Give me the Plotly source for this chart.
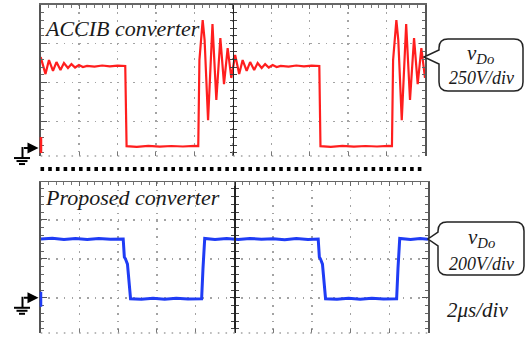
import plotly.graph_objects as go

# ---------------- data (time in us, voltage in V) ----------------
# ACCIB converter, v_Do (250 V/div)
t_accib = [0.00, 0.25, 0.43, 0.64, 0.82, 1.03, 1.21, 1.42, 1.60, 1.79,
           1.99, 2.20, 2.41, 2.80, 3.20, 3.60, 4.00, 4.40, 4.47, 5.00,
           5.60, 6.20, 6.80, 7.40, 8.00, 8.20, 8.26, 8.43, 8.53, 8.71,
           8.94, 9.14, 9.35, 9.54, 9.73, 9.92, 10.12, 10.33, 10.51, 10.72,
           10.90, 11.11, 11.29, 11.50, 11.68, 11.87, 12.07, 12.28, 12.49, 12.90,
           13.30, 13.70, 14.10, 14.50, 14.56, 15.10, 15.70, 16.30, 16.90, 17.50,
           18.10, 18.28, 18.34, 18.51, 18.61, 18.79, 19.02, 19.22, 19.43, 19.62,
           19.81, 20.00]
v_accib = [583, 474, 564, 494, 551, 500, 545, 513, 538, 516,
           532, 519, 526, 522, 529, 523, 528, 526, 12, 8,
           14, 9, 13, 10, 14, 12, 564, 820, 692, 179,
           795, 308, 705, 410, 641, 449, 596, 474, 564, 494,
           551, 500, 545, 513, 538, 516, 532, 519, 526, 522,
           529, 523, 528, 526, 12, 8, 14, 9, 13, 10,
           14, 12, 564, 820, 692, 179, 795, 308, 705, 410,
           641, 449]

# Proposed converter, v_Do (200 V/div)
t_prop = [0.00, 0.60, 1.20, 1.80, 2.40, 3.00, 3.60, 4.26, 4.32, 4.38,
          4.48, 4.56, 4.64, 5.20, 5.80, 6.40, 7.00, 7.60, 8.31, 8.38,
          8.47, 9.00, 9.60, 10.20, 10.80, 11.40, 12.00, 12.60, 13.20, 13.80,
          14.33, 14.39, 14.45, 14.55, 14.63, 14.71, 15.30, 15.90, 16.50, 17.10,
          17.70, 18.38, 18.45, 18.54, 19.10, 19.60, 20.00]
v_prop = [302, 306, 299, 304, 300, 305, 301, 302, 209, 199,
          173, 65, -5, -8, -3, -7, -2, -6, -5, 150,
          305, 300, 304, 299, 305, 301, 303, 298, 304, 300,
          302, 209, 199, 173, 65, -5, -8, -3, -7, -2,
          -6, -5, 150, 305, 300, 304, 301]

top_label = "ACCIB converter"
bot_label = "Proposed converter"
top_scale = "250V/div"
bot_scale = "200V/div"
time_scale = "2μs/div"

assert len(t_accib) == len(v_accib)
assert len(t_prop) == len(v_prop)

# ---------------- layout helpers ----------------
W, H = 528, 339
def px(x): return x / W
def py(y): return 1 - y / H

TOP_PX = (4.5, 156)     # top/bottom pixel rows of upper graticule
BOT_PX = (182, 333)
TOP_X = [px(40.7), px(425)]
TOP_Y = [py(TOP_PX[1]), py(TOP_PX[0])]
BOT_X = [px(40.7), px(428)]
BOT_Y = [py(BOT_PX[1]), py(BOT_PX[0])]
TOP_RANGE = [-51, 920]
BOT_RANGE = [-181, 595]

def ground_row(pxrange, rng):
    # pixel row of 0 V inside a panel
    return pxrange[0] + (rng[1] - 0) / (rng[1] - rng[0]) * (pxrange[1] - pxrange[0])

GRID = "#a3a3a3"
DOTS = "1.6px,6.1px"
SERIF = "Liberation Serif, Times New Roman, serif"

def x_main(domain, anchor):
    return dict(domain=domain, anchor=anchor, range=[0, 20], side="top",
                showline=True, linecolor="#666", linewidth=1.5,
                ticks="inside", ticklen=4, tickwidth=1, tickcolor="#666",
                tick0=0, dtick=2,
                minor=dict(tick0=0, dtick=0.4, ticks="inside", ticklen=3,
                           tickcolor="#777", tickwidth=1, showgrid=False),
                showgrid=True, gridcolor=GRID, griddash=DOTS, gridwidth=1.5,
                zeroline=False, showticklabels=False, fixedrange=True)

def x_bottom(overlay, anchor):
    return dict(overlaying=overlay, anchor=anchor, range=[0, 20], side="bottom",
                showline=False, ticks="inside", ticklen=4, tickcolor="#777",
                tick0=0, dtick=2, showgrid=False, zeroline=False,
                showticklabels=False, fixedrange=True)

def y_main(domain, anchor, rng, t0, dt):
    return dict(domain=domain, anchor=anchor, range=rng,
                showline=True, linecolor="#555", linewidth=1.5, mirror="ticks",
                ticks="inside", ticklen=6, tickwidth=1, tickcolor="#555",
                tick0=t0, dtick=dt,
                minor=dict(tick0=t0, dtick=dt / 5, ticks="inside", ticklen=3,
                           tickcolor="#666", tickwidth=1, showgrid=False),
                showgrid=True, gridcolor=GRID, griddash=DOTS, gridwidth=1.5,
                zeroline=False, showticklabels=False, fixedrange=True)

def y_center(overlay, pos, rng, t0, dt, side):
    return dict(overlaying=overlay, anchor="free", position=pos, range=rng,
                showline=True, linecolor="#222", linewidth=1.5,
                ticks=side, ticklen=4, tickwidth=1, tickcolor="#333",
                tick0=t0, dtick=dt,
                minor=dict(tick0=t0, dtick=dt / 5, ticks=side, ticklen=3,
                           tickcolor="#444", tickwidth=1, showgrid=False),
                showgrid=False, zeroline=False, showticklabels=False,
                fixedrange=True)

fig = go.Figure()

fig.add_trace(go.Scatter(x=t_accib, y=v_accib, mode="lines", xaxis="x", yaxis="y",
                         line=dict(color="#ff1e1e", width=2.2), hoverinfo="skip"))
fig.add_trace(go.Scatter(x=t_prop, y=v_prop, mode="lines", xaxis="x2", yaxis="y2",
                         line=dict(color="#1f3cf5", width=3), hoverinfo="skip"))

# empty traces so that overlay axes are drawn
for xa, ya in [("x", "y3"), ("x", "y4"), ("x3", "y"),
               ("x2", "y5"), ("x2", "y6"), ("x4", "y2")]:
    fig.add_trace(go.Scatter(x=[None], y=[None], xaxis=xa, yaxis=ya,
                             mode="lines", hoverinfo="skip"))

top_c = (TOP_X[0] + TOP_X[1]) / 2
bot_c = (BOT_X[0] + BOT_X[1]) / 2

fig.update_layout(
    width=W, height=H, autosize=False,
    margin=dict(l=0, r=0, t=0, b=0),
    paper_bgcolor="white", plot_bgcolor="white",
    showlegend=False,
    xaxis=x_main(TOP_X, "y"),
    xaxis2=x_main(BOT_X, "y2"),
    xaxis3=x_bottom("x", "y"),
    xaxis4=x_bottom("x2", "y2"),
    yaxis=y_main(TOP_Y, "x", TOP_RANGE, 169, 250),
    yaxis2=y_main(BOT_Y, "x2", BOT_RANGE, 0, 200),
    yaxis3=y_center("y", top_c, TOP_RANGE, 169, 250, "outside"),
    yaxis4=y_center("y", top_c, TOP_RANGE, 169, 250, "inside"),
    yaxis5=y_center("y2", bot_c, BOT_RANGE, 0, 200, "outside"),
    yaxis6=y_center("y2", bot_c, BOT_RANGE, 0, 200, "inside"),
)

shapes = []
# dotted bottom edges of graticules
for xr, yr in [("x domain", "y domain"), ("x2 domain", "y2 domain")]:
    shapes.append(dict(type="line", xref=xr, yref=yr, x0=0, x1=1, y0=0, y1=0,
                       line=dict(color=GRID, width=1.5, dash=DOTS)))

# separator of black squares
shapes.append(dict(type="line", xref="paper", yref="paper",
                   x0=px(40.5), x1=px(425), y0=py(169), y1=py(169),
                   line=dict(color="black", width=4, dash="3.6px,4.1px")))

ann = []
# ground symbols, ground arrows and channel markers
for pxr, rng, col, lo, hi in [(TOP_PX, TOP_RANGE, "#ff1e1e", 5, -11),
                              (BOT_PX, BOT_RANGE, "#1f3cf5", 9, -6)]:
    g = ground_row(pxr, rng)
    def L(x0, x1, y0, y1, c="black", w=2):
        shapes.append(dict(type="line", xref="paper", yref="paper",
                           x0=px(x0), x1=px(x1), y0=py(y0), y1=py(y1),
                           line=dict(color=c, width=w)))
    L(22.5, 22.5, g - 1, g + 10)
    L(14, 30, g + 10, g + 10)
    L(16.5, 27.5, g + 13, g + 13)
    L(19, 25, g + 16, g + 16)
    L(41, 41, g + lo, g + hi, col, 2.5)
    ann.append(dict(text="", x=px(38.5), y=py(g), xref="paper", yref="paper",
                    ax=-16, ay=0, showarrow=True, arrowhead=2, arrowsize=1.1,
                    arrowwidth=2, arrowcolor="black"))

# callout boxes
def callout(x0, y0, x1, y1, r, tip, ty0, ty1):
    def P(x, y): return f"{px(x):.5f},{py(y):.5f}"
    return (f"M{P(x0 + r, y0)} L{P(x1 - r, y0)} Q{P(x1, y0)} {P(x1, y0 + r)} "
            f"L{P(x1, y1 - r)} Q{P(x1, y1)} {P(x1 - r, y1)} L{P(x0 + r, y1)} "
            f"Q{P(x0, y1)} {P(x0, y1 - r)} L{P(x0, ty1)} L{P(*tip)} L{P(x0, ty0)} "
            f"L{P(x0, y0 + r)} Q{P(x0, y0)} {P(x0 + r, y0)} Z")

shapes.append(dict(type="path", xref="paper", yref="paper",
                   path=callout(439, 39, 523, 91, 9, (424, 57), 50, 64),
                   line=dict(color="#222", width=1.5), fillcolor="white"))
shapes.append(dict(type="path", xref="paper", yref="paper",
                   path=callout(438, 222, 524, 275, 9, (428, 239), 232, 246),
                   line=dict(color="#222", width=1.5), fillcolor="white"))
fig.update_layout(shapes=shapes)

def txt(s, x, y, size, xanchor="center"):
    ann.append(dict(text=s, x=px(x), y=py(y), xref="paper", yref="paper",
                    xanchor=xanchor, yanchor="middle", showarrow=False,
                    borderpad=0,
                    font=dict(family=SERIF, size=size, color="#1a1a1a")))

txt(f"<i>{top_label}</i>", 43, 29, 22, "left")
txt(f"<i>{bot_label}</i>", 44, 197.5, 22, "left")
txt("<i>v<sub>Do</sub></i>", 480, 54, 21)
txt(f"<i>{top_scale}</i>", 481, 78, 18)
txt("<i>v<sub>Do</sub></i>", 481, 238, 21)
txt(f"<i>{bot_scale}</i>", 481, 264, 18)
txt(f"<i>{time_scale}</i>", 477, 310, 21)

fig.update_layout(annotations=ann)

fig.write_html("out.html",
               config={"displayModeBar": False, "staticPlot": True},
               post_script="document.body.style.margin='0px';"
                           "document.body.style.overflow='hidden';")
